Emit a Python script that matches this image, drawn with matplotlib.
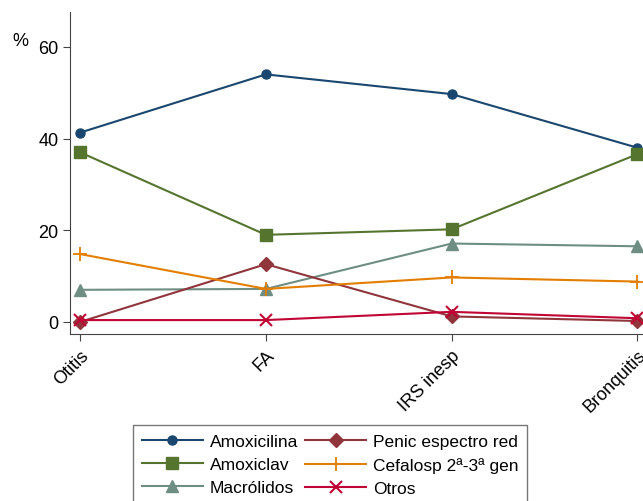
import matplotlib
matplotlib.use('Agg')
import matplotlib.pyplot as plt

plt.rcParams['font.family'] = ['Liberation Sans', 'DejaVu Sans']

# === DATOS ===
categorias = ['Otitis', 'FA', 'IRS inesp', 'Bronquitis']
amoxicilina = [41.3, 54.0, 49.7, 38.0]
amoxiclav = [37.0, 19.0, 20.2, 36.6]
macrolidos = [7.0, 7.2, 17.1, 16.5]
penic = [0.0, 12.6, 1.2, 0.2]
cefalosp = [14.8, 7.2, 9.7, 8.8]
otros = [0.4, 0.4, 2.2, 0.8]

x = list(range(len(categorias)))

fig = plt.figure(figsize=(6.43, 5.02), dpi=100)
ax = fig.add_axes([0.109, 0.333, 0.891, 0.641])

ax.plot(x, amoxicilina, color='#1a476f', marker='o', ms=6.5, lw=1.5, label='Amoxicilina')
ax.plot(x, amoxiclav, color='#55752f', marker='s', ms=8, lw=1.5, label='Amoxiclav')
ax.plot(x, macrolidos, color='#6e8e84', marker='^', ms=8, lw=1.5, label='Macrólidos')
ax.plot(x, penic, color='#90353b', marker='D', ms=7.5, lw=1.5, label='Penic espectro red')
ax.plot(x, cefalosp, color='#e37e00', marker='+', ms=10, mew=1.3, lw=1.5, label='Cefalosp 2ª-3ª gen')
ax.plot(x, otros, color='#c10534', marker='x', ms=8, mew=1.5, lw=1.5, label='Otros')

ax.set_xlim(-0.054, 3.03)
ax.set_ylim(-2.6, 67.6)
ax.set_yticks([0, 20, 40, 60])
ax.set_xticks(x)
ax.set_xticklabels(categorias, rotation=45, ha='right', rotation_mode='anchor')
ax.tick_params(axis='both', labelsize=13, direction='out', length=5, color='#444444')
ax.tick_params(axis='x', pad=4)

ax.spines['top'].set_visible(False)
ax.spines['right'].set_visible(False)
ax.spines['left'].set_color('#444444')
ax.spines['bottom'].set_color('#444444')

ax.text(-0.087, 0.913, '%', transform=ax.transAxes, fontsize=13, ha='center', va='center')

h, l = ax.get_legend_handles_labels()
leg = fig.legend(h, l, ncol=2,
                 loc='upper left', bbox_to_anchor=(0.194, 0.168),
                 fontsize=12.5, frameon=True, fancybox=False, edgecolor='#555555',
                 handlelength=3.5, columnspacing=0.4, labelspacing=0.45,
                 handletextpad=0.4, borderpad=0.5)
leg.get_frame().set_linewidth(1.0)

fig.savefig('out.png', dpi=100)
